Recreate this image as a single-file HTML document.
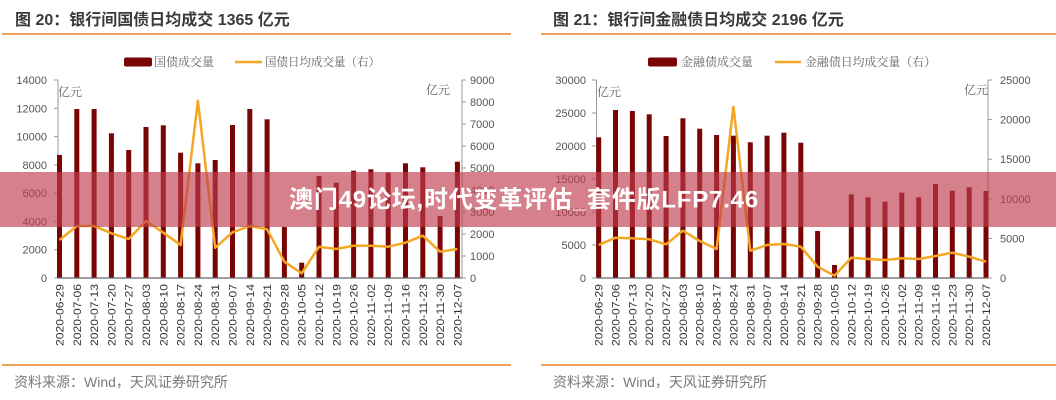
<!DOCTYPE html>
<html><head><meta charset="utf-8"><style>
html,body{margin:0;padding:0;background:#fff;}
body{width:1056px;height:400px;overflow:hidden;position:relative;}
svg{position:absolute;left:0;top:0;}
.t{font-family:"Liberation Sans","Noto Sans CJK SC",sans-serif;font-weight:bold;font-size:16px;fill:#3a3a3a;}
.lg{font-family:"Liberation Serif","Noto Serif CJK SC",serif;font-size:12px;fill:#666;}
.ax{font-family:"Liberation Sans","Noto Sans CJK SC",sans-serif;font-size:11px;fill:#555;}
.xl{font-family:"Liberation Sans",sans-serif;font-size:11px;fill:#333;}
.un{font-family:"Liberation Serif","Noto Serif CJK SC",serif;font-size:12px;fill:#666;}
.src{font-family:"Liberation Sans","Noto Sans CJK SC",sans-serif;font-size:14px;fill:#7a7a7a;}
.bn{font-family:"Liberation Sans","Noto Sans CJK SC",sans-serif;font-weight:bold;font-size:24px;fill:#fff;letter-spacing:0.8px;}
</style></head><body>
<svg width="1056" height="400" viewBox="0 0 1056 400" xmlns="http://www.w3.org/2000/svg">
<!-- ===== LEFT CHART ===== -->
<text class="t" x="15" y="25">图 20：银行间国债日均成交 1365 亿元</text>
<line x1="2" y1="34" x2="511" y2="34" stroke="#EFA15E" stroke-width="2"/>
<!-- legend -->
<rect x="124" y="57.5" width="28" height="9" rx="2" fill="#7a0505"/>
<text class="lg" x="154" y="66">国债成交量</text>
<line x1="235" y1="62" x2="262" y2="62" stroke="#F5A623" stroke-width="2.5"/>
<text class="lg" x="265" y="66" textLength="115" lengthAdjust="spacingAndGlyphs">国债日均成交量（右）</text>
<!-- axes -->
<line x1="58" y1="80" x2="58" y2="278" stroke="#999" stroke-width="1"/>
<line x1="462" y1="80" x2="462" y2="278" stroke="#999" stroke-width="1"/>
<g stroke="#999" stroke-width="1">
<line x1="54" y1="278" x2="58" y2="278"/><line x1="54" y1="249.7" x2="58" y2="249.7"/><line x1="54" y1="221.4" x2="58" y2="221.4"/><line x1="54" y1="193.1" x2="58" y2="193.1"/><line x1="54" y1="164.9" x2="58" y2="164.9"/><line x1="54" y1="136.6" x2="58" y2="136.6"/><line x1="54" y1="108.3" x2="58" y2="108.3"/><line x1="54" y1="80" x2="58" y2="80"/>
<line x1="462" y1="278" x2="466" y2="278"/><line x1="462" y1="256" x2="466" y2="256"/><line x1="462" y1="234" x2="466" y2="234"/><line x1="462" y1="212" x2="466" y2="212"/><line x1="462" y1="190" x2="466" y2="190"/><line x1="462" y1="168" x2="466" y2="168"/><line x1="462" y1="146" x2="466" y2="146"/><line x1="462" y1="124" x2="466" y2="124"/><line x1="462" y1="102" x2="466" y2="102"/><line x1="462" y1="80" x2="466" y2="80"/>
</g>
<g class="ax" text-anchor="end">
<text x="47" y="282">0</text><text x="47" y="253.7">2000</text><text x="47" y="225.4">4000</text><text x="47" y="197.1">6000</text><text x="47" y="168.9">8000</text><text x="47" y="140.6">10000</text><text x="47" y="112.3">12000</text><text x="47" y="84">14000</text>
</g>
<g class="ax">
<text x="470" y="282">0</text><text x="470" y="260">1000</text><text x="470" y="238">2000</text><text x="470" y="216">3000</text><text x="470" y="194">4000</text><text x="470" y="172">5000</text><text x="470" y="150">6000</text><text x="470" y="128">7000</text><text x="470" y="106">8000</text><text x="470" y="84">9000</text>
</g>
<text class="un" x="58" y="96">亿元</text>
<text class="un" x="426" y="94">亿元</text>
<!-- bars -->
<g fill="#7a0505">
<rect x="57" y="155" width="5" height="123"/>
<rect x="74.3" y="109" width="5" height="169"/>
<rect x="91.6" y="109" width="5" height="169"/>
<rect x="108.9" y="133.3" width="5" height="144.7"/>
<rect x="126.2" y="150" width="5" height="128"/>
<rect x="143.5" y="127" width="5" height="151"/>
<rect x="160.8" y="125.3" width="5" height="152.7"/>
<rect x="178.1" y="152.7" width="5" height="125.3"/>
<rect x="195.4" y="163.3" width="5" height="114.7"/>
<rect x="212.7" y="160" width="5" height="118"/>
<rect x="230" y="125" width="5" height="153"/>
<rect x="247.3" y="109" width="5" height="169"/>
<rect x="264.6" y="119.3" width="5" height="158.7"/>
<rect x="281.9" y="227" width="5" height="51"/>
<rect x="299.2" y="262.7" width="5" height="15.3"/>
<rect x="316.5" y="176" width="5" height="102"/>
<rect x="333.8" y="182.7" width="5" height="95.3"/>
<rect x="351.1" y="170.7" width="5" height="107.3"/>
<rect x="368.4" y="169.3" width="5" height="108.7"/>
<rect x="385.7" y="172.7" width="5" height="105.3"/>
<rect x="403" y="163.3" width="5" height="114.7"/>
<rect x="420.3" y="167.3" width="5" height="110.7"/>
<rect x="437.6" y="216" width="5" height="62"/>
<rect x="454.9" y="161.7" width="5" height="116.3"/>
</g>
<line x1="58" y1="278" x2="462" y2="278" stroke="#666" stroke-width="1.2"/>
<polyline fill="none" stroke="#F5A623" stroke-width="2.5" stroke-linejoin="round" points="59.5,240 76.8,226 94.1,226 111.4,233.3 128.7,239 146,221 163.3,232.7 180.6,245 197.9,100.7 215.2,247.7 232.5,232.3 249.8,226 267.1,229.3 284.4,261.7 301.7,273.3 319,246.7 336.3,249 353.6,245.7 370.9,245.7 388.2,246.7 405.5,242.7 422.8,235.7 440.1,251.7 457.4,249"/>
<!-- x labels -->
<g class="xl" text-anchor="end">
<text transform="translate(63.5,284) rotate(-90)" textLength="62" lengthAdjust="spacingAndGlyphs">2020-06-29</text>
<text transform="translate(80.8,284) rotate(-90)" textLength="62" lengthAdjust="spacingAndGlyphs">2020-07-06</text>
<text transform="translate(98.1,284) rotate(-90)" textLength="62" lengthAdjust="spacingAndGlyphs">2020-07-13</text>
<text transform="translate(115.4,284) rotate(-90)" textLength="62" lengthAdjust="spacingAndGlyphs">2020-07-20</text>
<text transform="translate(132.7,284) rotate(-90)" textLength="62" lengthAdjust="spacingAndGlyphs">2020-07-27</text>
<text transform="translate(150,284) rotate(-90)" textLength="62" lengthAdjust="spacingAndGlyphs">2020-08-03</text>
<text transform="translate(167.3,284) rotate(-90)" textLength="62" lengthAdjust="spacingAndGlyphs">2020-08-10</text>
<text transform="translate(184.6,284) rotate(-90)" textLength="62" lengthAdjust="spacingAndGlyphs">2020-08-17</text>
<text transform="translate(201.9,284) rotate(-90)" textLength="62" lengthAdjust="spacingAndGlyphs">2020-08-24</text>
<text transform="translate(219.2,284) rotate(-90)" textLength="62" lengthAdjust="spacingAndGlyphs">2020-08-31</text>
<text transform="translate(236.5,284) rotate(-90)" textLength="62" lengthAdjust="spacingAndGlyphs">2020-09-07</text>
<text transform="translate(253.8,284) rotate(-90)" textLength="62" lengthAdjust="spacingAndGlyphs">2020-09-14</text>
<text transform="translate(271.1,284) rotate(-90)" textLength="62" lengthAdjust="spacingAndGlyphs">2020-09-21</text>
<text transform="translate(288.4,284) rotate(-90)" textLength="62" lengthAdjust="spacingAndGlyphs">2020-09-28</text>
<text transform="translate(305.7,284) rotate(-90)" textLength="62" lengthAdjust="spacingAndGlyphs">2020-10-05</text>
<text transform="translate(323,284) rotate(-90)" textLength="62" lengthAdjust="spacingAndGlyphs">2020-10-12</text>
<text transform="translate(340.3,284) rotate(-90)" textLength="62" lengthAdjust="spacingAndGlyphs">2020-10-19</text>
<text transform="translate(357.6,284) rotate(-90)" textLength="62" lengthAdjust="spacingAndGlyphs">2020-10-26</text>
<text transform="translate(374.9,284) rotate(-90)" textLength="62" lengthAdjust="spacingAndGlyphs">2020-11-02</text>
<text transform="translate(392.2,284) rotate(-90)" textLength="62" lengthAdjust="spacingAndGlyphs">2020-11-09</text>
<text transform="translate(409.5,284) rotate(-90)" textLength="62" lengthAdjust="spacingAndGlyphs">2020-11-16</text>
<text transform="translate(426.8,284) rotate(-90)" textLength="62" lengthAdjust="spacingAndGlyphs">2020-11-23</text>
<text transform="translate(444.1,284) rotate(-90)" textLength="62" lengthAdjust="spacingAndGlyphs">2020-11-30</text>
<text transform="translate(461.4,284) rotate(-90)" textLength="62" lengthAdjust="spacingAndGlyphs">2020-12-07</text>
</g>
<line x1="2" y1="365" x2="511" y2="365" stroke="#EFA15E" stroke-width="2"/>
<text class="src" x="14" y="387">资料来源：Wind，天风证券研究所</text>

<!-- ===== RIGHT CHART ===== -->
<text class="t" x="553" y="25">图 21：银行间金融债日均成交 2196 亿元</text>
<line x1="541" y1="34" x2="1056" y2="34" stroke="#EFA15E" stroke-width="2"/>
<rect x="648" y="57.5" width="29" height="9" rx="2" fill="#7a0505"/>
<text class="lg" x="681" y="66">金融债成交量</text>
<line x1="775" y1="62" x2="801" y2="62" stroke="#F5A623" stroke-width="2.5"/>
<text class="lg" x="805" y="66" textLength="131" lengthAdjust="spacingAndGlyphs">金融债日均成交量（右）</text>
<line x1="596.5" y1="80" x2="596.5" y2="278" stroke="#999" stroke-width="1"/>
<line x1="988" y1="80" x2="988" y2="278" stroke="#999" stroke-width="1"/>
<g stroke="#999" stroke-width="1">
<line x1="592" y1="278" x2="596.5" y2="278"/><line x1="592" y1="245" x2="596.5" y2="245"/><line x1="592" y1="212" x2="596.5" y2="212"/><line x1="592" y1="179" x2="596.5" y2="179"/><line x1="592" y1="146" x2="596.5" y2="146"/><line x1="592" y1="113" x2="596.5" y2="113"/><line x1="592" y1="80" x2="596.5" y2="80"/>
<line x1="988" y1="278" x2="992" y2="278"/><line x1="988" y1="238.4" x2="992" y2="238.4"/><line x1="988" y1="198.8" x2="992" y2="198.8"/><line x1="988" y1="159.2" x2="992" y2="159.2"/><line x1="988" y1="119.6" x2="992" y2="119.6"/><line x1="988" y1="80" x2="992" y2="80"/>
</g>
<g class="ax" text-anchor="end">
<text x="586" y="282">0</text><text x="586" y="249">5000</text><text x="586" y="216">10000</text><text x="586" y="183">15000</text><text x="586" y="150">20000</text><text x="586" y="117">25000</text><text x="586" y="84">30000</text>
</g>
<g class="ax">
<text x="1000" y="282">0</text><text x="1000" y="242.4">5000</text><text x="1000" y="202.8">10000</text><text x="1000" y="163.2">15000</text><text x="1000" y="123.6">20000</text><text x="1000" y="84">25000</text>
</g>
<text class="un" x="597" y="96">亿元</text>
<text class="un" x="964" y="94">亿元</text>
<g fill="#7a0505">
<rect x="596.2" y="137.3" width="5" height="140.7"/>
<rect x="613" y="110" width="5" height="168"/>
<rect x="629.9" y="111" width="5" height="167"/>
<rect x="646.7" y="114.3" width="5" height="163.7"/>
<rect x="663.6" y="136" width="5" height="142"/>
<rect x="680.4" y="118.3" width="5" height="159.7"/>
<rect x="697.2" y="128.7" width="5" height="149.3"/>
<rect x="714.1" y="135" width="5" height="143"/>
<rect x="730.9" y="135.7" width="5" height="142.3"/>
<rect x="747.8" y="142.3" width="5" height="135.7"/>
<rect x="764.6" y="135.7" width="5" height="142.3"/>
<rect x="781.4" y="132.7" width="5" height="145.3"/>
<rect x="798.3" y="142.7" width="5" height="135.3"/>
<rect x="815.1" y="231" width="5" height="47"/>
<rect x="832" y="265" width="5" height="13"/>
<rect x="848.8" y="194.3" width="5" height="83.7"/>
<rect x="865.6" y="197.3" width="5" height="80.7"/>
<rect x="882.5" y="201.7" width="5" height="76.3"/>
<rect x="899.3" y="192.7" width="5" height="85.3"/>
<rect x="916.2" y="197.3" width="5" height="80.7"/>
<rect x="933" y="184" width="5" height="94"/>
<rect x="949.8" y="190.7" width="5" height="87.3"/>
<rect x="966.7" y="187.3" width="5" height="90.7"/>
<rect x="983.5" y="191" width="5" height="87"/>
</g>
<line x1="596.5" y1="278" x2="988" y2="278" stroke="#666" stroke-width="1.2"/>
<polyline fill="none" stroke="#F5A623" stroke-width="2.5" stroke-linejoin="round" points="598.7,245 615.5,237.7 632.4,238.3 649.2,239.3 666.1,244.3 682.9,230.7 699.7,241 716.6,249 733.4,106.7 750.3,250.7 767.1,245 783.9,244 800.8,246.7 817.6,266.7 834.5,275.7 851.3,257.7 868.1,259 885,260 901.8,258.3 918.7,259 935.5,256 952.3,252.7 969.2,256.7 986,261.7"/>
<g class="xl" text-anchor="end">
<text transform="translate(602.7,284) rotate(-90)" textLength="62" lengthAdjust="spacingAndGlyphs">2020-06-29</text>
<text transform="translate(619.5,284) rotate(-90)" textLength="62" lengthAdjust="spacingAndGlyphs">2020-07-06</text>
<text transform="translate(636.4,284) rotate(-90)" textLength="62" lengthAdjust="spacingAndGlyphs">2020-07-13</text>
<text transform="translate(653.2,284) rotate(-90)" textLength="62" lengthAdjust="spacingAndGlyphs">2020-07-20</text>
<text transform="translate(670.1,284) rotate(-90)" textLength="62" lengthAdjust="spacingAndGlyphs">2020-07-27</text>
<text transform="translate(686.9,284) rotate(-90)" textLength="62" lengthAdjust="spacingAndGlyphs">2020-08-03</text>
<text transform="translate(703.7,284) rotate(-90)" textLength="62" lengthAdjust="spacingAndGlyphs">2020-08-10</text>
<text transform="translate(720.6,284) rotate(-90)" textLength="62" lengthAdjust="spacingAndGlyphs">2020-08-17</text>
<text transform="translate(737.4,284) rotate(-90)" textLength="62" lengthAdjust="spacingAndGlyphs">2020-08-24</text>
<text transform="translate(754.3,284) rotate(-90)" textLength="62" lengthAdjust="spacingAndGlyphs">2020-08-31</text>
<text transform="translate(771.1,284) rotate(-90)" textLength="62" lengthAdjust="spacingAndGlyphs">2020-09-07</text>
<text transform="translate(787.9,284) rotate(-90)" textLength="62" lengthAdjust="spacingAndGlyphs">2020-09-14</text>
<text transform="translate(804.8,284) rotate(-90)" textLength="62" lengthAdjust="spacingAndGlyphs">2020-09-21</text>
<text transform="translate(821.6,284) rotate(-90)" textLength="62" lengthAdjust="spacingAndGlyphs">2020-09-28</text>
<text transform="translate(838.5,284) rotate(-90)" textLength="62" lengthAdjust="spacingAndGlyphs">2020-10-05</text>
<text transform="translate(855.3,284) rotate(-90)" textLength="62" lengthAdjust="spacingAndGlyphs">2020-10-12</text>
<text transform="translate(872.1,284) rotate(-90)" textLength="62" lengthAdjust="spacingAndGlyphs">2020-10-19</text>
<text transform="translate(889,284) rotate(-90)" textLength="62" lengthAdjust="spacingAndGlyphs">2020-10-26</text>
<text transform="translate(905.8,284) rotate(-90)" textLength="62" lengthAdjust="spacingAndGlyphs">2020-11-02</text>
<text transform="translate(922.7,284) rotate(-90)" textLength="62" lengthAdjust="spacingAndGlyphs">2020-11-09</text>
<text transform="translate(939.5,284) rotate(-90)" textLength="62" lengthAdjust="spacingAndGlyphs">2020-11-16</text>
<text transform="translate(956.3,284) rotate(-90)" textLength="62" lengthAdjust="spacingAndGlyphs">2020-11-23</text>
<text transform="translate(973.2,284) rotate(-90)" textLength="62" lengthAdjust="spacingAndGlyphs">2020-11-30</text>
<text transform="translate(990,284) rotate(-90)" textLength="62" lengthAdjust="spacingAndGlyphs">2020-12-07</text>
</g>
<line x1="541" y1="365" x2="1056" y2="365" stroke="#EFA15E" stroke-width="2"/>
<text class="src" x="553" y="387">资料来源：Wind，天风证券研究所</text>

<!-- ===== BANNER ===== -->
<rect x="0" y="172" width="1056" height="55" fill="rgb(190,60,75)" fill-opacity="0.65"/>
<text class="bn" x="524" y="207.5" text-anchor="middle">澳门49论坛,时代变革评估_套件版LFP7.46</text>
</svg>
</body></html>
